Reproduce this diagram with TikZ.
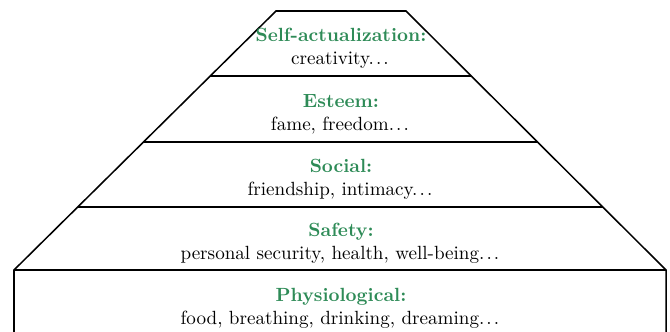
\documentclass[tikz,border=0pt]{standalone}
\usepackage{tikz}
\usetikzlibrary{calc}
\definecolor{needgreen}{RGB}{46,139,87}
\tikzstyle{level} = [align=center, text centered]
\tikzstyle{edge} = [thick, line join=miter]
\newcommand{\dotdotdot}{.\kern1.11pt.\kern1.11pt.\kern1.11pt}
\newcommand{\need}[2]{\textbf{\color{needgreen}#1:}\\#2\dotdotdot}

\begin{document}
\begin{tikzpicture}[x=0.5236pt, y=-0.5236pt]
        \useasboundingbox (0,0) rectangle (670,331);
        \coordinate (topleft) at (276,11);
        \coordinate (topright) at (406,11);
        \coordinate (baseleft) at (14,270);
        \coordinate (baseright) at (666,270);
        \coordinate (footleft) at (14,345);
        \coordinate (footright) at (666,345);

        \draw [edge] (footleft) -- (baseleft) -- (topleft) -- (topright) -- (baseright) -- (footright);
        \draw [edge] (baseleft) -- (baseright);
        \foreach \f in {0.251, 0.506, 0.757}
            \draw [edge] ($(topleft)!\f!(baseleft)$) -- ($(topright)!\f!(baseright)$);

        \node (selfact) [level] at (341,48) {\need{Self-actualization}{creativity}};
        \node (esteem) [level] at (341,114) {\need{Esteem}{fame, freedom}};
        \node (social) [level] at (341,179) {\need{Social}{friendship, intimacy}};
        \node (safety) [level] at (341,243) {\need{Safety}{personal security, health, well-being}};
        \node (physio) [level] at (341,308) {\need{Physiological}{food, breathing, drinking, dreaming}};
\end{tikzpicture}
\end{document}
